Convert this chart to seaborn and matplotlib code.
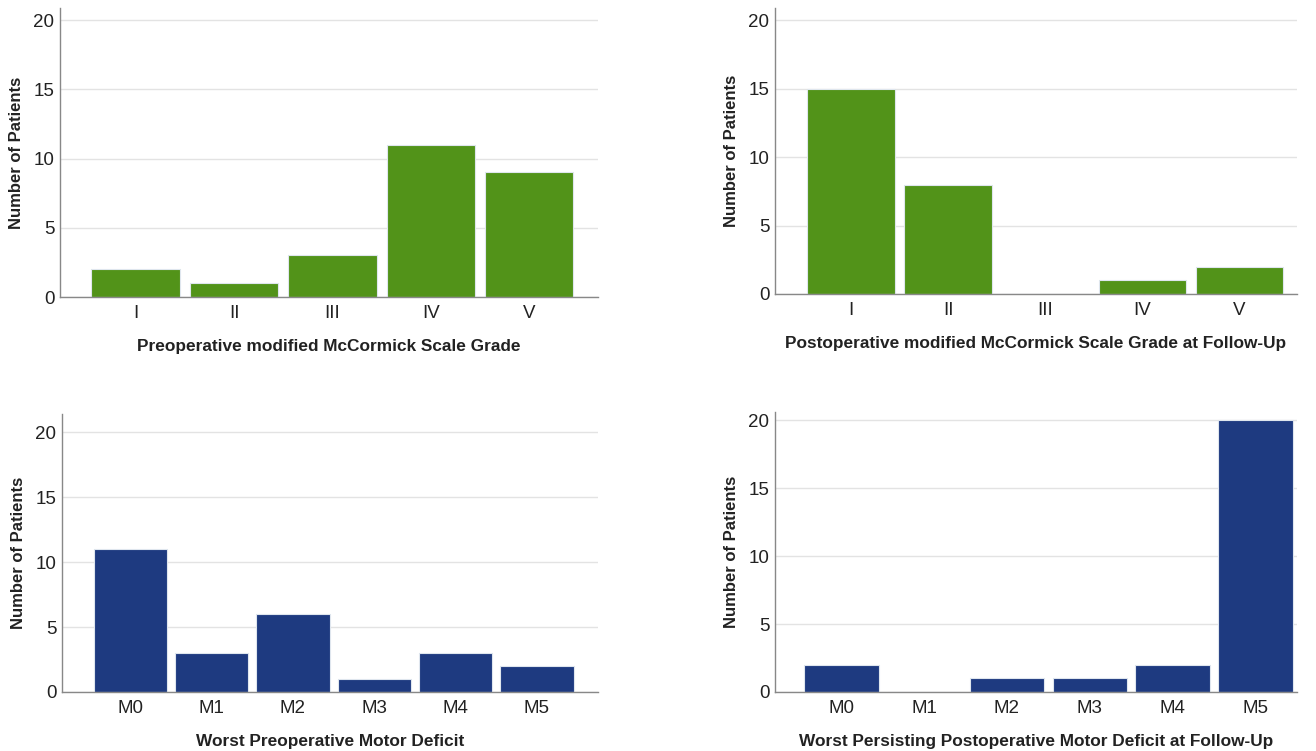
import matplotlib
matplotlib.use("Agg")
import matplotlib.pyplot as plt
import seaborn as sns
import pandas as pd

grades = ["I", "II", "III", "IV", "V"]
pre_mccormick = [2, 1, 3, 11, 9]
post_mccormick = [15, 8, 0, 1, 2]

motor = ["M0", "M1", "M2", "M3", "M4", "M5"]
pre_motor = [11, 3, 6, 1, 3, 2]
post_motor = [2, 0, 1, 1, 2, 20]

ylabel = "Number of Patients"
xlabels = [
    "Preoperative modified McCormick Scale Grade",
    "Postoperative modified McCormick Scale Grade at Follow-Up",
    "Worst Preoperative Motor Deficit",
    "Worst Persisting Postoperative Motor Deficit at Follow-Up",
]

GREEN = "#529319"
BLUE = "#1E3A80"

sns.set_theme(style="white")
plt.rcParams["font.family"] = ["Liberation Sans", "DejaVu Sans"]

fig = plt.figure(figsize=(13.16, 7.51), dpi=100)

W, H = 1316, 751
def rect(l, r, t, b):
    return [l / W, 1 - b / H, (r - l) / W, (b - t) / H]

panels = [
    ((60, 598, 8, 297), grades, pre_mccormick, GREEN, xlabels[0], (-0.77, 4.70), 20.87),
    ((775, 1297, 8, 294), grades, post_mccormick, GREEN, xlabels[1], (-0.78, 4.59), 20.9),
    ((62, 598, 414, 692), motor, pre_motor, BLUE, xlabels[2], (-0.84, 5.75), 21.4),
    ((775, 1297, 412, 692), motor, post_motor, BLUE, xlabels[3], (-0.80, 5.50), 20.6),
]

for box, cats, vals, col, xl, xlim, ytop in panels:
    ax = fig.add_axes(rect(*box))
    df = pd.DataFrame({"cat": cats, "n": vals})
    sns.barplot(data=df, x="cat", y="n", order=cats, color=col, width=0.9,
                edgecolor="#dfe6ee", linewidth=0.8, saturation=1, ax=ax)
    ax.set_xlim(*xlim)
    ax.set_ylim(0, ytop)
    ax.set_yticks([0, 5, 10, 15, 20])
    ax.yaxis.grid(True, color="#e3e3e3", linewidth=1.0)
    ax.set_axisbelow(True)
    for s in ["top", "right"]:
        ax.spines[s].set_visible(False)
    for s in ["left", "bottom"]:
        ax.spines[s].set_color("#888888")
        ax.spines[s].set_linewidth(1.0)
    ax.tick_params(axis="y", length=0, labelsize=13.5, colors="#222222", pad=4)
    ax.tick_params(axis="x", length=0, labelsize=13.5, colors="#222222", pad=6)
    ax.set_xlabel(xl, fontsize=12.4, fontweight="bold", color="#222222", labelpad=12)
    ax.set_ylabel(ylabel, fontsize=12, fontweight="bold", color="#222222")
    ax.yaxis.set_label_coords(-36 / (box[1] - box[0]), 0.5)

fig.savefig("out.png", dpi=100, facecolor="white")
